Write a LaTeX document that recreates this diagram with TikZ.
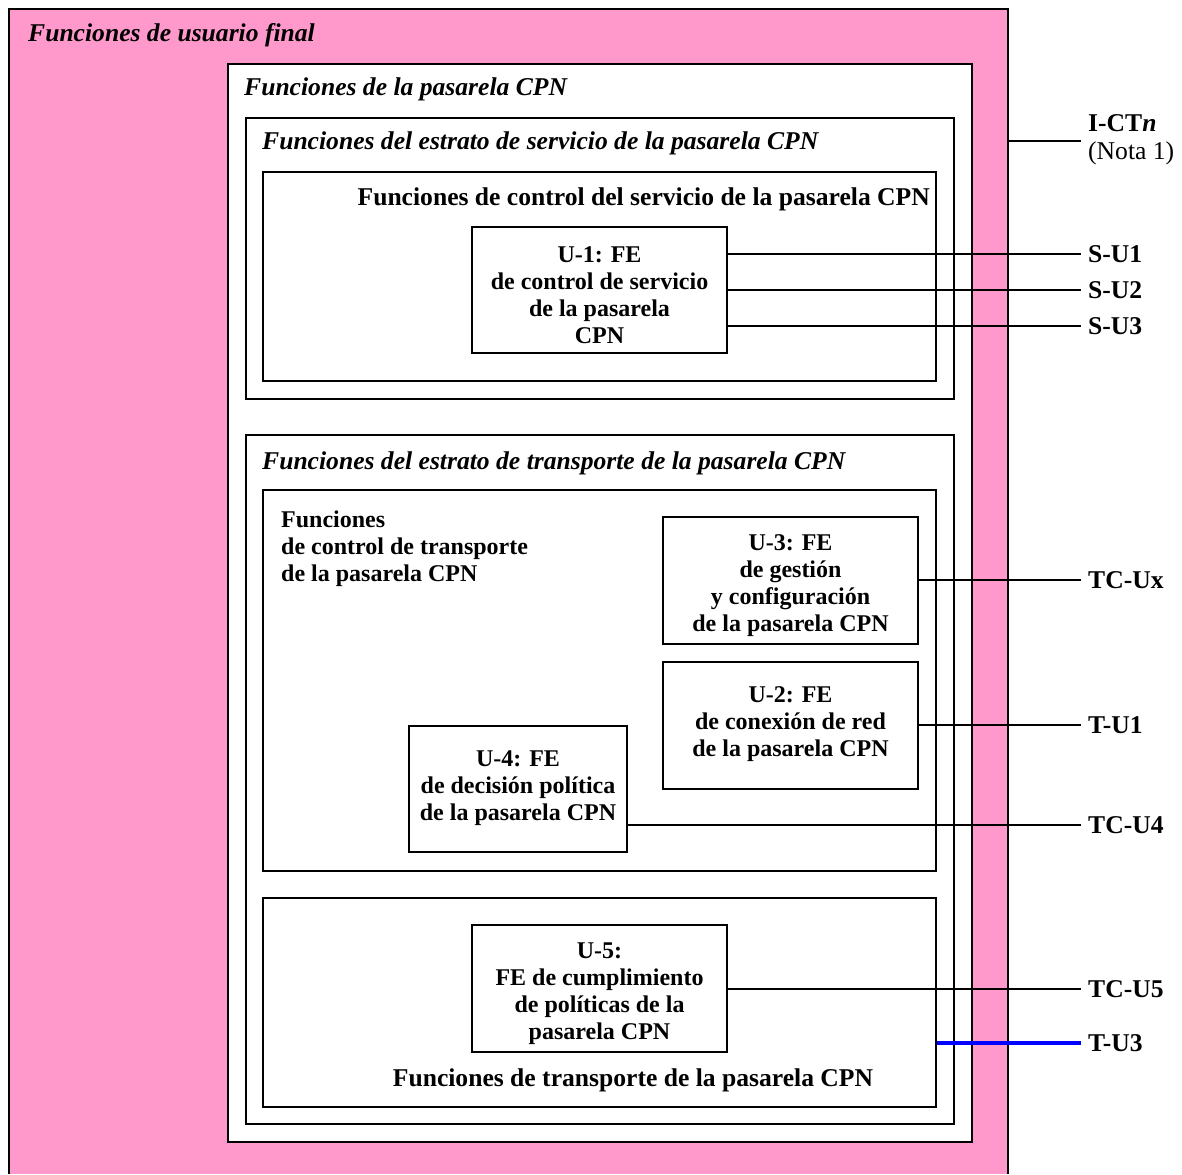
\documentclass[tikz,border=0pt]{standalone}
\usepackage{fontspec}
\setmainfont{Liberation Serif}
\definecolor{userpink}{RGB}{255,153,204}
\definecolor{tuline}{RGB}{0,0,255}
\newcommand{\diagfont}{\fontsize{25.6}{27}\selectfont}
\newcommand{\boxfont}{\fontsize{24}{27}\selectfont}
\begin{document}
\begin{tikzpicture}[x=1pt,y=-1pt,
  every node/.style={font=\diagfont\bfseries},
  frame/.style={draw=black,line width=1.6pt,fill=white,rectangle,inner sep=0pt},
  fetext/.style={align=center,inner sep=0pt,font=\boxfont\bfseries},
  title/.style={anchor=base west,inner sep=0pt,font=\diagfont\bfseries\itshape},
  link/.style={draw=black,line width=1.6pt},
  iflabel/.style={anchor=west,inner sep=0pt,xshift=7pt}
]
\useasboundingbox (0,0) rectangle (1182,1174);

% end-user functions area
\fill[userpink] (9,9) rectangle (1008,1174);
\draw[line width=1.6pt] (9,1174) -- (9,9) -- (1008,9) -- (1008,1174);
\node[title] (tuser) at (28,42) {Funciones de usuario final};

% gateway and its strata
\node[frame,minimum width=744,minimum height=1078] (gw) at (600,603) {};
\node[title] (tgw) at (244,96) {Funciones de la pasarela CPN};

\node[frame,minimum width=708,minimum height=281] (ss) at (600,258.5) {};
\node[title] (tss) at (262,150) {Funciones del estrato de servicio de la pasarela CPN};

\node[frame,minimum width=673,minimum height=209] (sc) at (599.5,276.5) {};
\node[anchor=base east,inner sep=0pt] (tsc) at (930,206) {Funciones de control del servicio de la pasarela CPN};

\node[frame,minimum width=255,minimum height=126] (u1) at (599.5,290) {};
\node[fetext,yshift=-5pt] (u1t) at (u1) {U-1: FE\\de control de servicio\\de la pasarela\\CPN};

\node[frame,minimum width=708,minimum height=689] (ts) at (600,779.5) {};
\node[title] (tts) at (262,469) {Funciones del estrato de transporte de la pasarela CPN};

\node[frame,minimum width=673,minimum height=381] (tc) at (599.5,680.5) {};
\node[anchor=base west,inner sep=0pt,align=left,font=\boxfont\bfseries] (ttc) at (281,581)
  {Funciones\\de control de transporte\\de la pasarela CPN};

\node[frame,minimum width=255,minimum height=127] (u3) at (790.5,580.5) {};
\node[fetext,yshift=-5pt] (u3t) at (u3) {U-3: FE\\de gestión\\y configuración\\de la pasarela CPN};
\node[frame,minimum width=255,minimum height=127] (u2) at (790.5,725.5) {};
\node[fetext,yshift=1pt] (u2t) at (u2) {U-2: FE\\de conexión de red\\de la pasarela CPN};
\node[frame,minimum width=218,minimum height=126] (u4) at (518,789) {};
\node[fetext,yshift=1pt] (u4t) at (u4) {U-4: FE\\de decisión política\\de la pasarela CPN};

\node[frame,minimum width=673,minimum height=209] (tf) at (599.5,1002.5) {};
\node[anchor=base,inner sep=0pt] (ttf) at (633,1086) {Funciones de transporte de la pasarela CPN};

\node[frame,minimum width=255,minimum height=127] (u5) at (599.5,988.5) {};
\node[fetext,yshift=-5pt] (u5t) at (u5) {U-5:\\FE de cumplimiento\\de políticas de la\\pasarela CPN};

% interface end points
\coordinate (ictn) at (1081,141);
\coordinate (su1) at (1081,254);
\coordinate (su2) at (1081,290);
\coordinate (su3) at (1081,326);
\coordinate (tcux) at (1081,580);
\coordinate (tu1) at (1081,725);
\coordinate (tcu4) at (1081,825);
\coordinate (tcu5) at (1081,989);
\coordinate (tu3) at (1081,1043);
\coordinate (userside) at (1008,141);

% connectors
\draw[link] (userside) -- (ictn);
\draw[link] (u1.east |- su1) -- (su1);
\draw[link] (u1.east |- su2) -- (su2);
\draw[link] (u1.east |- su3) -- (su3);
\draw[link] (u3.east |- tcux) -- (tcux);
\draw[link] (u2.east |- tu1) -- (tu1);
\draw[link] (u4.east |- tcu4) -- (tcu4);
\draw[link] (u5.east |- tcu5) -- (tcu5);
\draw[draw=tuline,line width=3.5pt] (tf.east |- tu3) -- (tu3);

% interface labels
\node[anchor=base west,inner sep=0pt] (lictn) at (1088,132) {I-CT\textit{n}};
\node[anchor=base west,inner sep=0pt,font=\diagfont] (lnota) at (1088,160) {(Nota 1)};
\node[iflabel] (lsu1) at (su1) {S-U1};
\node[iflabel] (lsu2) at (su2) {S-U2};
\node[iflabel] (lsu3) at (su3) {S-U3};
\node[iflabel] (ltcux) at (tcux) {TC-Ux};
\node[iflabel] (ltu1) at (tu1) {T-U1};
\node[iflabel] (ltcu4) at (tcu4) {TC-U4};
\node[iflabel] (ltcu5) at (tcu5) {TC-U5};
\node[iflabel] (ltu3) at (tu3) {T-U3};
\end{tikzpicture}
\end{document}
